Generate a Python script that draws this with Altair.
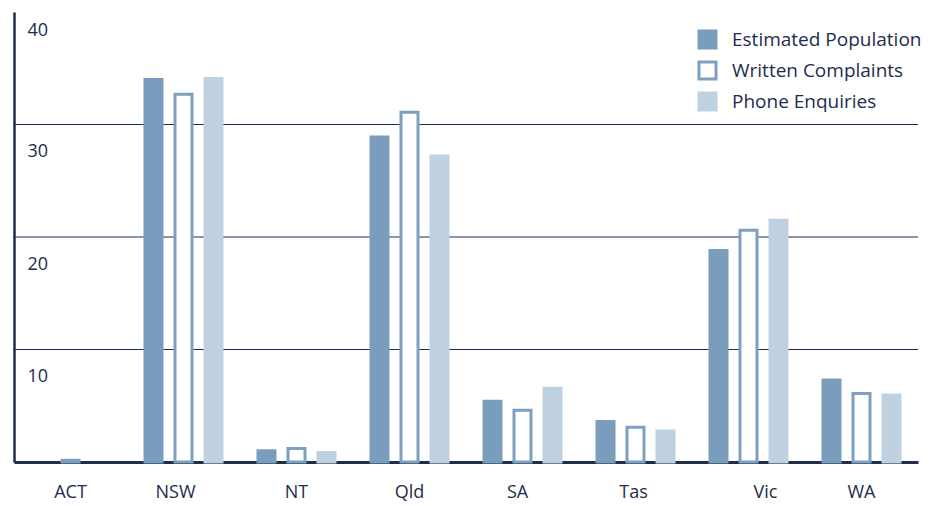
import altair as alt
import pandas as pd

states = ["ACT", "NSW", "NT", "Qld", "SA", "Tas", "Vic", "WA"]
series = ["Estimated Population", "Written Complaints", "Phone Enquiries"]
pop = [0.0, 34.0, 1.0, 28.9, 5.4, 3.6, 18.8, 7.3]
written = [0.15, 32.7, 1.2, 31.1, 4.6, 3.1, 20.6, 6.1]
phone = [0.0, 34.1, 0.85, 27.2, 6.55, 2.75, 21.5, 5.95]
grid_values = [10, 20, 30]
y_ticks = [10, 20, 30, 40]

NAVY = "#1e2d4b"
fills = ["#7b9dbd", "#ffffff", "#bfd0e0"]
strokes = ["#7b9dbd", "#7e9fc1", "#bfd0e0"]

rows = []
for s, vals in zip(series, [pop, written, phone]):
    for st, v in zip(states, vals):
        rows.append({"state": st, "series": s, "value": v})
df = pd.DataFrame(rows)
grid_df = pd.DataFrame({"g": grid_values})

FONT = "Open Sans"

label_offset_expr = (
    "datum.value == 'NSW' ? -8 : datum.value == 'Vic' ? 17 : "
    "datum.value == 'SA' ? -5 : datum.value == 'Tas' ? -2 : 0"
)

legend = alt.Legend(
    title=None,
    orient="none",
    legendX=683,
    legendY=17,
    symbolType="square",
    symbolSize=290,
    symbolStrokeWidth=3,
    labelFont=FONT,
    labelFontSize=19,
    labelColor=NAVY,
    labelOffset=14,
    labelLimit=400,
    rowPadding=0,
)

bars = alt.Chart(df).transform_filter("datum.value > 0").mark_bar(
    width=17, strokeWidth=3
).encode(
    x=alt.X(
        "state:N",
        sort=states,
        scale=alt.Scale(domain=states, paddingInner=33 / 113, paddingOuter=33 / 226),
        axis=alt.Axis(
            title=None,
            labelAngle=0,
            labelFont=FONT,
            labelFontSize=18,
            labelColor=NAVY,
            labelPadding=21,
            labelBaseline="top",
            labelOffset={"expr": label_offset_expr},
            ticks=False,
            tickSize=0,
            domainColor=NAVY,
            domainWidth=3,
            grid=False,
        ),
    ),
    xOffset=alt.XOffset(
        "series:N",
        sort=series,
        scale=alt.Scale(domain=series, paddingInner=1 / 3, paddingOuter=0),
    ),
    y=alt.Y(
        "value:Q",
        scale=alt.Scale(domain=[0, 40], nice=False),
        axis=alt.Axis(
            title=None,
            values=y_ticks,
            grid=False,
            ticks=False,
            tickSize=0,
            labelAlign="left",
            labelBaseline="middle",
            labelPadding=-13,
            labelOffset={"expr": "datum.value == 40 ? 18 : 27"},
            labelFlush=False,
            labelBound=False,
            labelFont=FONT,
            labelFontSize=18,
            labelColor=NAVY,
            domainColor=NAVY,
            domainWidth=2.5,
        ),
    ),
    fill=alt.Fill(
        "series:N",
        sort=series,
        scale=alt.Scale(domain=series, range=fills),
        legend=legend,
    ),
    stroke=alt.Stroke(
        "series:N",
        sort=series,
        scale=alt.Scale(domain=series, range=strokes),
        legend=legend,
    ),
)

grid = alt.Chart(grid_df).mark_rule(color=NAVY, strokeWidth=1.2).encode(
    y=alt.Y("g:Q", scale=alt.Scale(domain=[0, 40], nice=False))
)

chart = alt.layer(grid, bars).properties(
    width=904,
    height=450,
    background="white",
    autosize=alt.AutoSizeParams(type="none"),
    padding={"left": 14, "top": 12, "right": 13, "bottom": 44},
).configure_view(stroke=None)

chart.save("out.html", embed_options={"renderer": "svg", "actions": False})
